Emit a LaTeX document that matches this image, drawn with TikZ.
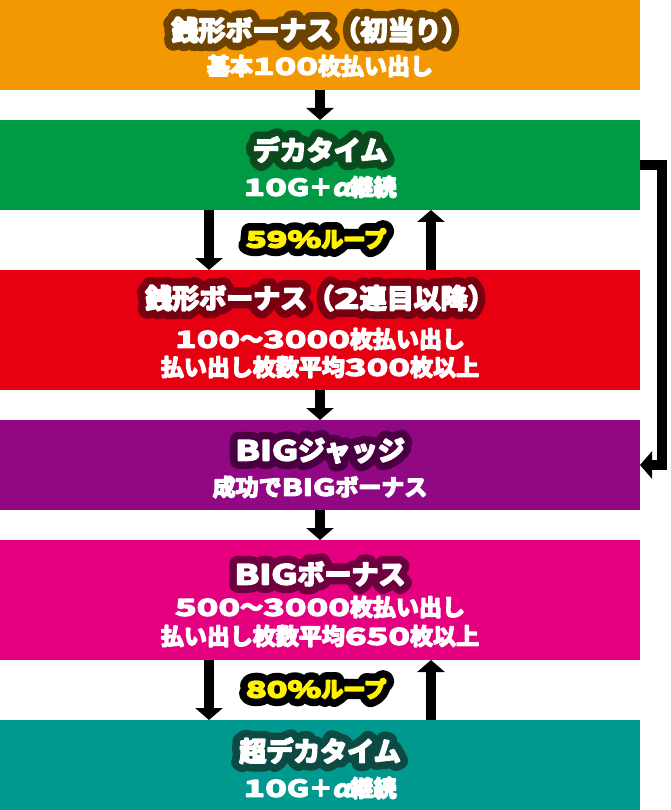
\documentclass[tikz,border=0pt]{standalone}
\usepackage{fontspec}
\usetikzlibrary{arrows.meta}
\newfontfamily\jp{Noto Sans CJK JP Bold}
\newfontfamily\jpw{Noto Sans CJK JP Bold}[FakeStretch=1.6]
\newfontfamily\jpl{Noto Sans CJK JP Bold}[FakeStretch=1.35]
\newfontfamily\jpi{Noto Sans CJK JP Bold}[FakeSlant=0.2, FakeStretch=1.2]
\definecolor{cOrange}{HTML}{F39800}
\definecolor{cGreen}{HTML}{009944}
\definecolor{cRed}{HTML}{E60012}
\definecolor{cPurple}{HTML}{920783}
\definecolor{cMagenta}{HTML}{E4007F}
\definecolor{cTeal}{HTML}{00998F}
\definecolor{dkOrange}{HTML}{6E4300}
\definecolor{dkGreen}{HTML}{0B4A1E}
\definecolor{dkRed}{HTML}{780010}
\definecolor{dkPurple}{HTML}{4A0040}
\definecolor{dkMagenta}{HTML}{6E0040}
\definecolor{dkTeal}{HTML}{0E4A44}
\definecolor{cYellow}{HTML}{FFF100}
\newcommand\dg[1]{{\jpw #1}}
\newcommand\lt[1]{{\jpl #1}}
\newcommand\al{{\jpi α}}
% heavier fill: fill + thin stroke in the current colour
\newcommand\bldw[2]{\special{pdf:literal direct 2 Tr #1 w 1 j}#2\special{pdf:literal direct 0 Tr}}
\newcommand\bld[1]{\bldw{1.5}{#1}}
% outlined text: thick stroke copy underneath, then the heavier fill on top
\newcommand\outl[3]{\makebox[0pt][l]{\color{#1}\special{pdf:literal direct 1 Tr #2 w 1 j 1 J}#3\special{pdf:literal direct 0 Tr}}\bldw{1.9}{#3}}
\tikzset{
  box/.style={rectangle, minimum width=640pt, inner sep=0pt, outer sep=0pt, draw=none},
  ttl/.style={font=\jp\fontsize{27}{30}\selectfont, text=white, inner sep=0pt, text height=23.8pt, text depth=3.2pt},
  sub/.style={font=\jp\fontsize{23}{26}\selectfont, text=white, inner sep=0pt, text height=20.2pt, text depth=2.8pt},
  loop/.style={font=\jp\fontsize{22}{24}\selectfont, text=cYellow, inner sep=0pt, text height=19.4pt, text depth=2.6pt},
  arr/.style={line width=10pt, -{Triangle[width=27pt,length=12pt]}, black}
}
\begin{document}
\begin{tikzpicture}[x=1pt,y=-1pt]
\useasboundingbox (0,0) rectangle (670,810);
\fill[white] (0,0) rectangle (670,810);
% boxes
\node[box, fill=cOrange, minimum height=90pt] (b1) at (320,45) {};
\node[box, fill=cGreen, minimum height=90pt] (b2) at (320,165) {};
\node[box, fill=cRed, minimum height=120pt] (b3) at (320,330) {};
\node[box, fill=cPurple, minimum height=90pt] (b4) at (320,465) {};
\node[box, fill=cMagenta, minimum height=120pt] (b5) at (320,600) {};
\node[box, fill=cTeal, minimum height=90pt] (b6) at (320,765) {};
% texts
\node[ttl] (t1) at (320,30) {\outl{dkOrange}{17}{銭形ボーナス（初当り）}};
\node[sub] (s1) at (320,66) {\bld{基本\dg{100}枚払い出し}};
\node[ttl] (t2) at (320,150) {\outl{dkGreen}{17}{デカタイム}};
\node[sub] (s2) at (320,187) {\bld{\dg{10}\lt{G}＋\al 継続}};
\node[ttl] (t3) at (320,298) {\outl{dkRed}{17}{銭形ボーナス（\dg{2}連目以降）}};
\node[sub] (s3a) at (320,339) {\bld{\dg{100}～\dg{3000}枚払い出し}};
\node[sub] (s3b) at (320,367) {\bld{払い出し枚数平均\dg{300}枚以上}};
\node[ttl] (t4) at (320,450) {\outl{dkPurple}{17}{\lt{BIG}ジャッジ}};
\node[sub] (s4) at (320,487) {\bld{成功で\lt{BIG}ボーナス}};
\node[ttl] (t5) at (320,574) {\outl{dkMagenta}{17}{\lt{BIG}ボーナス}};
\node[sub] (s5a) at (320,607) {\bld{\dg{500}～\dg{3000}枚払い出し}};
\node[sub] (s5b) at (320,636) {\bld{払い出し枚数平均\dg{650}枚以上}};
\node[ttl] (t6) at (320,751) {\outl{dkTeal}{17}{超デカタイム}};
\node[sub] (s6) at (320,788) {\bld{\dg{10}\lt{G}＋\al 継続}};
% loop labels
\node[loop] (l1) at (316,239) {\outl{black}{17}{\dg{59\%}ループ}};
\node[loop] (l2) at (316,689) {\outl{black}{17}{\dg{80\%}ループ}};
% arrows
\draw[arr] (b1.south) -- (b2.north);
\draw[arr] ([xshift=-111pt]b2.south) -- ([xshift=-111pt]b3.north);
\draw[arr] ([xshift=111pt]b3.north) -- ([xshift=111pt]b2.south);
\draw[arr] (b3.south) -- (b4.north);
\draw[arr] (b4.south) -- (b5.north);
\draw[arr] ([xshift=-111pt]b5.south) -- ([xshift=-111pt]b6.north);
\draw[arr] ([xshift=111pt]b6.north) -- ([xshift=111pt]b5.south);
\draw[arr] (b2.east) -- ++(22,0) |- (b4.east);
\end{tikzpicture}
\end{document}
